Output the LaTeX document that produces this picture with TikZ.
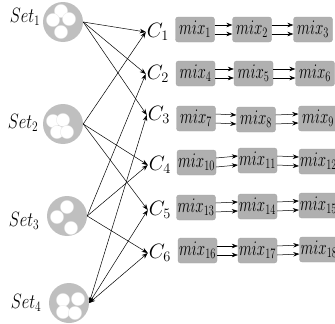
\documentclass[tikz,border=0pt]{standalone}
\usepackage{graphicx}
\usetikzlibrary{arrows.meta}
\newcommand\mixlabel[1]{\scalebox{0.72}[1]{$mix_{#1}$}}
\newcommand\setlabel[1]{\scalebox{0.8}[1]{$Set_{#1}$}}
\begin{document}
\begin{tikzpicture}[x=1pt,y=-1pt,
  txt/.style={font=\fontsize{20}{24}\selectfont, inner sep=1pt},
  setdisk/.style={circle, fill=black!25, minimum size=40pt, inner sep=0pt},
  grain/.style={fill=white, draw=black!10, line width=0.3pt},
  mixbox/.style={rectangle, rounded corners=2.5pt, fill=black!31, draw=black!36,
    line width=0.3pt, minimum width=39pt, minimum height=25pt, inner sep=0pt,
    font=\fontsize{20}{24}\selectfont},
  arr/.style={-{Stealth[length=6pt,width=4.5pt]}, line width=0.5pt},
  both/.style={{Stealth[length=6pt,width=4.5pt]}-{Stealth[length=6pt,width=4.5pt]}, line width=0.5pt}
]
\useasboundingbox (0,0) rectangle (335,324);
\clip (0,0) rectangle (335,324);

% sets of grains
\node[setdisk] (s1) at (63,22) {};
\node[setdisk] (s2) at (63,124) {};
\node[setdisk] (s3) at (67,216) {};
\node[setdisk] (s4) at (69,303) {};

\begin{scope}[shift={(63,22)}]
  \draw[grain] (-2,-11) circle (6.6);
  \draw[grain] (6,-3) circle (6.6);
  \draw[grain] (-10,-2) circle (6.6);
  \draw[grain] (-2,10) circle (6.6);
\end{scope}
\begin{scope}[shift={(63,124)}]
  \draw[grain] (-10,-3) circle (6.6);
  \draw[grain] (0,-4) circle (6.6);
  \draw[grain] (-6,8) circle (6.6);
  \draw[grain] (4,8) circle (6.6);
\end{scope}
\begin{scope}[shift={(67,216)}]
  \draw[grain] (0,-9) circle (6.6);
  \draw[grain] (-10,1) circle (6.6);
  \draw[grain] (4,12) circle (6.6);
\end{scope}
\begin{scope}[shift={(69,303)}]
  \draw[grain] (-6,-3) circle (6.6);
  \draw[grain] (9,-4) circle (6.6);
  \draw[grain] (-6,9) circle (6.6);
  \draw[grain] (6,10) circle (6.6);
\end{scope}

\node[txt] (l1) at (25,17) {\setlabel{1}};
\node[txt] (l2) at (23,123) {\setlabel{2}};
\node[txt] (l3) at (24,221) {\setlabel{3}};
\node[txt] (l4) at (26,303) {\setlabel{4}};

% combinations
\node[txt] (c1) at (158,32) {$C_1$};
\node[txt] (c2) at (158,74) {$C_2$};
\node[txt] (c3) at (159,115) {$C_3$};
\node[txt] (c4) at (160,165) {$C_4$};
\node[txt] (c5) at (160,210) {$C_5$};
\node[txt] (c6) at (160,253) {$C_6$};

\draw[arr] (s1.east) -- (c1.west);
\draw[arr] (s1.east) -- (c2.west);
\draw[arr] (s1.east) -- (c3.west);
\draw[arr] (s2.east) -- (c1.west);
\draw[arr] (s2.east) -- (c4.west);
\draw[arr] (s2.east) -- (c5.west);
\draw[arr] (s3.east) -- (c2.west);
\draw[arr] (s3.east) -- (c4.west);
\draw[arr] (s3.east) -- (c6.west);
\draw[both] (s4.east) -- (c3.west);
\draw[both] (s4.east) -- (c5.west);
\draw[both] (s4.east) -- (c6.west);

% mixing chains
\node[mixbox] (m1) at (195,29.5) {\mixlabel{1}};
\node[mixbox] (m2) at (252,29.5) {\mixlabel{2}};
\node[mixbox] (m3) at (313,29.5) {\mixlabel{3}};
\node[mixbox] (m4) at (195.5,73.5) {\mixlabel{4}};
\node[mixbox] (m5) at (253.5,73.5) {\mixlabel{5}};
\node[mixbox] (m6) at (315,73.5) {\mixlabel{6}};
\node[mixbox] (m7) at (196,118.5) {\mixlabel{7}};
\node[mixbox] (m8) at (256,119.5) {\mixlabel{8}};
\node[mixbox] (m9) at (318,118.5) {\mixlabel{9}};
\node[mixbox] (m10) at (196.5,162.5) {\mixlabel{10}};
\node[mixbox] (m11) at (257.5,160.5) {\mixlabel{11}};
\node[mixbox] (m12) at (318.5,161.5) {\mixlabel{12}};
\node[mixbox] (m13) at (196,207.5) {\mixlabel{13}};
\node[mixbox] (m14) at (257.5,206.5) {\mixlabel{14}};
\node[mixbox] (m15) at (318.5,205.5) {\mixlabel{15}};
\node[mixbox] (m16) at (197.5,250.5) {\mixlabel{16}};
\node[mixbox] (m17) at (257.5,250.5) {\mixlabel{17}};
\node[mixbox] (m18) at (319,249.5) {\mixlabel{18}};

\foreach \a/\b in {m1/m2,m2/m3,m4/m5,m5/m6,m7/m8,m8/m9,m10/m11,m11/m12,
                   m13/m14,m14/m15,m16/m17,m17/m18}{
  \draw[arr] ([yshift=4.5pt]\a.east) -- ([yshift=4.5pt]\b.west);
  \draw[arr] ([yshift=-4.5pt]\a.east) -- ([yshift=-4.5pt]\b.west);
}
\end{tikzpicture}
\end{document}
